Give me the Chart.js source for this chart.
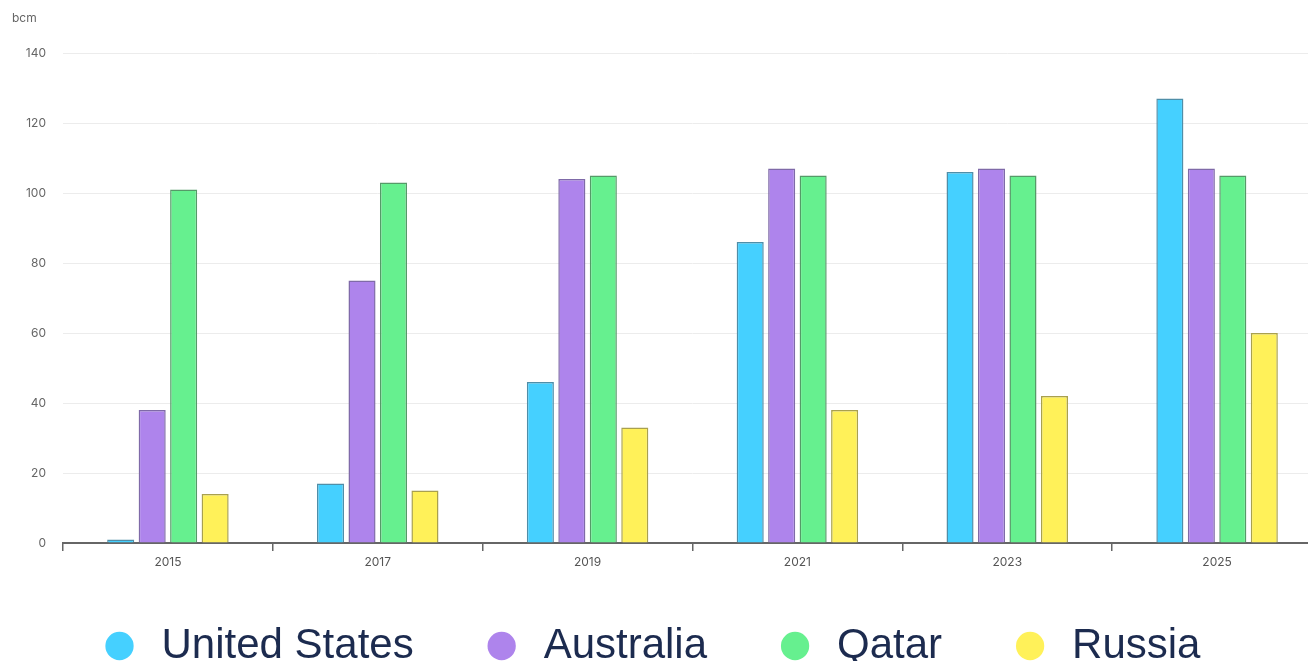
<!DOCTYPE html>
<html>
<head>
<meta charset="utf-8">
<script src="https://cdn.jsdelivr.net/npm/chart.js@4"></script>
<style>
  html, body { margin: 0; padding: 0; background: #ffffff; overflow: hidden; width: 1308px; height: 661px; }
  #wrap { position: absolute; left: 0; top: 0; width: 1322px; height: 692px; }
  canvas { display: block; }
</style>
</head>
<body>
<div id="wrap"><canvas id="c" width="1322" height="692" style="width:1322px;height:692px"></canvas></div>
<script>
const categories = ['2015', '2017', '2019', '2021', '2023', '2025'];
const seriesNames = ['United States', 'Australia', 'Qatar', 'Russia'];
const unitedStates = [1, 17, 46, 86, 106, 127];
const australia = [38, 75, 104, 107, 107, 107];
const qatar = [101, 103, 105, 105, 105, 105];
const russia = [14, 15, 33, 38, 42, 60];
const yTicks = [0, 20, 40, 60, 80, 100, 120, 140];
const unitLabel = 'bcm';

const fills = ['#45d0ff', '#ae84ec', '#66f08f', '#fff159'];
const borders = ['#4f8ea8', '#7f6aa8', '#559a68', '#a9a04e'];
const values = [unitedStates, australia, qatar, russia];

const datasets = seriesNames.map((name, i) => ({
  label: name,
  data: values[i],
  backgroundColor: fills[i],
  borderColor: borders[i],
  borderWidth: 1.5,
  categoryPercentage: 0.6,
  barPercentage: 0.86
}));

const legendShift = {
  id: 'legendShift',
  afterLayout(chart) {
    const lg = chart.legend;
    if (lg) { lg.top -= 15; lg.bottom -= 15; }
  }
};

new Chart(document.getElementById('c'), {
  type: 'bar',
  data: { labels: categories, datasets },
  plugins: [legendShift],
  options: {
    responsive: false,
    animation: false,
    devicePixelRatio: 1,
    layout: { padding: { left: 12, right: 0, top: 0, bottom: 0 } },
    plugins: {
      tooltip: { enabled: false },
      title: {
        display: true,
        text: unitLabel,
        align: 'start',
        color: '#666666',
        font: { family: 'Inter', size: 12, weight: 'normal' },
        padding: { top: 11, bottom: 27.6 }
      },
      legend: {
        position: 'bottom',
        labels: {
          usePointStyle: true,
          pointStyle: 'circle',
          boxWidth: 42,
          boxHeight: 20,
          padding: 67,
          color: '#1c2b4f',
          font: { family: 'Liberation Sans', size: 42 },
          generateLabels(chart) {
            const items = Chart.defaults.plugins.legend.labels.generateLabels(chart);
            items.forEach((it, i) => {
              it.lineWidth = 0;
              it.strokeStyle = 'rgba(0,0,0,0)';
              it.fillStyle = fills[i];
              if (i === items.length - 1) it.text = it.text + '   ';
            });
            return items;
          }
        }
      }
    },
    scales: {
      x: {
        offset: true,
        grid: {
          display: true,
          offset: true,
          drawOnChartArea: false,
          drawTicks: true,
          tickLength: 8,
          color: '#666666',
          lineWidth: 1.5
        },
        border: { display: true, color: '#666666', width: 2 },
        ticks: { color: '#555555', font: { family: 'Inter', size: 12 }, padding: 4, autoSkip: false, maxRotation: 0 },
        afterFit(scale) { scale.height = 30; }
      },
      y: {
        min: 0,
        max: 140,
        afterBuildTicks(scale) { scale.ticks = yTicks.map(v => ({ value: v })); },
        grid: { color: '#ececec', drawTicks: false, lineWidth: 1 },
        border: { display: false },
        ticks: { color: '#666666', font: { family: 'Inter', size: 12 }, padding: 17 },
        afterFit(scale) { scale.width = 51; }
      }
    }
  }
});
</script>
</body>
</html>
